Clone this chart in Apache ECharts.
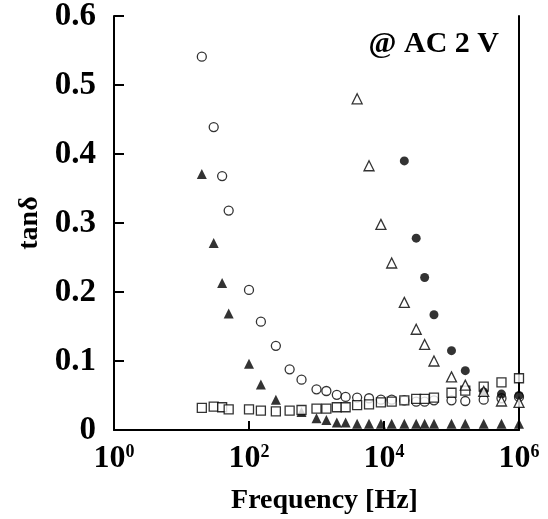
<!DOCTYPE html>
<html>
<head>
<meta charset="utf-8">
<script src="https://cdn.jsdelivr.net/npm/echarts@6/dist/echarts.min.js"></script>
<style>html,body{margin:0;padding:0;background:#fff}#c{width:548px;height:519px}</style>
</head>
<body>
<div id="c"></div>
<script>
// ---- data ----
const xTicks = [1, 100, 10000, 1000000];
const yTicks = [0, 0.1, 0.2, 0.3, 0.4, 0.5, 0.6];

const openCircleFreq = [20, 30, 40, 50, 100, 150, 250, 400, 600, 1000, 1400, 2000, 2700, 4000, 6000, 9000, 13000, 20000, 30000, 40000, 55000, 100000, 160000, 300000, 550000, 1000000];
const openCircleTan  = [0.541, 0.439, 0.368, 0.318, 0.203, 0.157, 0.122, 0.088, 0.073, 0.059, 0.0565, 0.051, 0.048, 0.047, 0.046, 0.044, 0.044, 0.043, 0.041, 0.041, 0.043, 0.043, 0.042, 0.044, 0.046, 0.048];

const filledTriFreq = [20, 30, 40, 50, 100, 150, 250, 600, 1000, 1400, 2000, 2700, 4000, 6000, 9000, 13000, 20000, 30000, 40000, 55000, 100000, 160000, 300000, 550000, 1000000];
const filledTriTan  = [0.371, 0.271, 0.213, 0.169, 0.096, 0.066, 0.044, 0.026, 0.017, 0.0145, 0.011, 0.011, 0.009, 0.009, 0.009, 0.009, 0.009, 0.009, 0.009, 0.009, 0.009, 0.009, 0.009, 0.009, 0.009];

const openSquareFreq = [20, 30, 40, 50, 100, 150, 250, 400, 600, 1000, 1400, 2000, 2700, 4000, 6000, 9000, 13000, 20000, 30000, 40000, 55000, 100000, 160000, 300000, 550000, 1000000];
const openSquareTan  = [0.032, 0.034, 0.033, 0.030, 0.030, 0.028, 0.027, 0.028, 0.029, 0.031, 0.031, 0.033, 0.033, 0.036, 0.037, 0.040, 0.041, 0.043, 0.045, 0.045, 0.047, 0.054, 0.057, 0.063, 0.069, 0.075];

const openTriFreq = [4000, 6000, 9000, 13000, 20000, 30000, 40000, 55000, 100000, 160000, 300000, 550000, 1000000];
const openTriTan  = [0.480, 0.383, 0.298, 0.242, 0.185, 0.146, 0.124, 0.100, 0.077, 0.065, 0.056, 0.042, 0.040];

const filledCircleFreq = [20000, 30000, 40000, 55000, 100000, 160000, 300000, 550000, 1000000];
const filledCircleTan  = [0.390, 0.278, 0.221, 0.167, 0.115, 0.086, 0.055, 0.052, 0.050];

const annotation = '@ AC 2 V';
// --------------------------------------

const pair = (f, v) => f.map((x, i) => [x, v[i]]);
const FONT = '"Liberation Serif", "DejaVu Serif", serif';
const openStyle = { color: '#fff', borderColor: '#000', borderWidth: 1.3 };
const fillStyle = { color: '#000' };

const chart = echarts.init(document.getElementById('c'), null, { renderer: 'canvas' });
chart.setOption({
  animation: false,
  backgroundColor: '#fff',
  title: {
    text: annotation, right: 44, top: 24,
    textStyle: { fontFamily: FONT, fontWeight: 'bold', fontSize: 30, color: '#000' }
  },
  grid: { left: 114, right: 29, top: 16, bottom: 89, containLabel: false, outerBoundsMode: 'none' },
  xAxis: {
    type: 'log', logBase: 10, min: 1, max: 1000000,
    name: 'Frequency [Hz]', nameLocation: 'middle', nameGap: 57,
    nameTextStyle: { fontFamily: FONT, fontWeight: 'bold', fontSize: 28, color: '#000', padding: [0, 0, 0, 16] },
    axisLine: { show: true, onZero: false, lineStyle: { color: '#000', width: 2 } },
    axisTick: { show: true, inside: true, length: 9, customValues: xTicks, lineStyle: { color: '#000', width: 2 } },
    minorTick: { show: false },
    splitLine: { show: false },
    axisLabel: {
      customValues: xTicks, margin: 13,
      formatter: (v) => '{b|10}{s|' + Math.round(Math.log10(v)) + '}',
      rich: {
        b: { fontFamily: FONT, fontWeight: 'bold', fontSize: 32, color: '#000' },
        s: { fontFamily: FONT, fontWeight: 'bold', fontSize: 18, color: '#000', verticalAlign: 'top' }
      }
    }
  },
  yAxis: [{
    type: 'value', min: 0, max: 0.6, interval: 0.1,
    name: 'tanδ', nameLocation: 'middle', nameGap: 44, nameRotate: 90,
    nameTextStyle: { fontFamily: FONT, fontWeight: 'bold', fontSize: 28, color: '#000' },
    axisLine: { show: true, lineStyle: { color: '#000', width: 2 } },
    axisTick: { show: true, inside: true, length: 10, lineStyle: { color: '#000', width: 2 } },
    splitLine: { show: false },
    axisLabel: {
      margin: 18, fontFamily: FONT, fontWeight: 'bold', fontSize: 33, color: '#000',
      formatter: (v) => v === 0 ? '0' : v.toFixed(1)
    }
  }, {
    type: 'value', min: 0, max: 0.6, position: 'right',
    axisLine: { show: true, lineStyle: { color: '#000', width: 2 } },
    axisTick: { show: false }, axisLabel: { show: false }, splitLine: { show: false }
  }],
  series: [
    { type: 'scatter', name: 'filled triangle', symbol: 'triangle', symbolSize: 10, itemStyle: fillStyle, data: pair(filledTriFreq, filledTriTan), z: 1 },
    { type: 'scatter', name: 'open circle', symbol: 'circle', symbolSize: 9, itemStyle: openStyle, data: pair(openCircleFreq, openCircleTan), z: 2 },
    { type: 'scatter', name: 'open square', symbol: 'rect', symbolSize: 9, itemStyle: openStyle, data: pair(openSquareFreq, openSquareTan), z: 3 },
    { type: 'scatter', name: 'filled circle', symbol: 'circle', symbolSize: 9, itemStyle: fillStyle, data: pair(filledCircleFreq, filledCircleTan), z: 4 },
    { type: 'scatter', name: 'open triangle', symbol: 'triangle', symbolSize: 10, itemStyle: openStyle, data: pair(openTriFreq, openTriTan), z: 5 }
  ]
});
</script>
</body>
</html>
